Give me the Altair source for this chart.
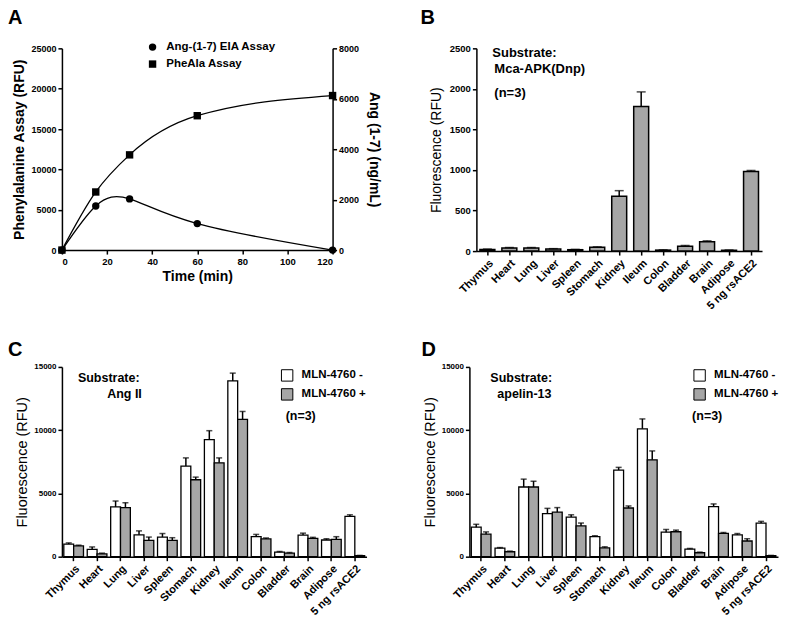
import altair as alt
import pandas as pd

# ---------------- data ----------------
time_min = [0, 15, 30, 60, 120]
pheala_rfu = [0, 7200, 11800, 16650, 19150]
ang17_ngml = [0, 1750, 2030, 1050, 0]
series_a = ["Ang-(1-7) EIA Assay", "PheAla Assay"]

tissues = ["Thymus", "Heart", "Lung", "Liver", "Spleen", "Stomach", "Kidney",
           "Ileum", "Colon", "Bladder", "Brain", "Adipose", "5 ng rsACE2"]

b_mean = [20, 38, 38, 25, 17, 46, 675, 1783, 12, 59, 114, 10, 982]
b_err = [5, 6, 6, 5, 4, 6, 70, 180, 3, 10, 12, 3, 12]
b_ticks = [0, 500, 1000, 1500, 2000, 2500]

treat = ["MLN-4760 -", "MLN-4760 +"]
c_minus = [1000, 570, 3930, 1730, 1550, 7160, 9260, 13890, 1580, 360, 1710, 1320, 3180]
c_minus_err = [90, 200, 470, 310, 280, 650, 700, 620, 180, 50, 150, 100, 130]
c_plus = [850, 230, 3880, 1290, 1290, 6080, 7420, 10860, 1400, 280, 1450, 1370, 80]
c_plus_err = [60, 50, 390, 260, 210, 210, 390, 620, 80, 50, 80, 210, 20]

d_minus = [2330, 670, 5510, 3410, 3130, 1580, 6850, 10110, 1940, 600, 3960, 1730, 2660]
d_minus_err = [230, 50, 620, 410, 180, 80, 210, 780, 210, 50, 210, 100, 130]
d_plus = [1780, 390, 5510, 3520, 2430, 700, 3850, 7660, 1970, 310, 1840, 1240, 80]
d_plus_err = [180, 50, 460, 360, 230, 80, 160, 700, 130, 50, 80, 180, 20]

GREY = "#a6a6a6"
FONT = "Liberation Sans"


def note(text, x, y, align="left", size=12.5, baseline="middle"):
    return alt.Chart(pd.DataFrame({"t": [text]})).mark_text(
        align=align, baseline=baseline, fontSize=size, fontWeight="bold",
        font=FONT, color="black").encode(text="t:N", x=alt.value(x), y=alt.value(y))


def letter(t, x, y):
    return note(t, x, y, size=20, baseline="top")


def band_axis():
    return alt.Axis(title=None, labelAngle=315, labelFontSize=11, labelPadding=2)


# ---------------- Panel A ----------------
df_pa = pd.DataFrame({"time": time_min, "value": pheala_rfu, "series": series_a[1]})
df_an = pd.DataFrame({"time": time_min, "value": ang17_ngml, "series": series_a[0]})

xA = alt.X("time:Q", scale=alt.Scale(domain=[0, 120], nice=False),
           axis=alt.Axis(values=[0, 20, 40, 60, 80, 100, 120], title="Time (min)", format="d",
                         labelFontSize=9.5, titleFontSize=14, titlePadding=4))
yL = alt.Y("value:Q", scale=alt.Scale(domain=[0, 25000], nice=False),
           axis=alt.Axis(values=[0, 5000, 10000, 15000, 20000, 25000], format="d",
                         title="Phenylalanine Assay  (RFU)", labelFontSize=9,
                         titleFontSize=14, titlePadding=4, labelOverlap=False))
yR = alt.Y("value:Q", scale=alt.Scale(domain=[0, 8000], nice=False),
           axis=alt.Axis(orient="right", values=[0, 2000, 4000, 6000, 8000], format="d",
                         title="Ang (1-7) (ng/mL)", labelFontSize=9,
                         titleFontSize=14, titlePadding=8, labelOverlap=False))
shapeA = alt.Shape("series:N", scale=alt.Scale(domain=series_a, range=["circle", "square"]),
                   legend=alt.Legend(title=None, orient="none", legendX=85, legendY=-7,
                                     labelFontSize=11.5, labelFontWeight="bold",
                                     symbolFillColor="black", symbolStrokeColor="black",
                                     symbolSize=55, rowPadding=3, labelOffset=8))

leftA = alt.layer(
    alt.Chart(df_pa).mark_line(color="black", interpolate="monotone", strokeWidth=1.3).encode(x=xA, y=yL),
    alt.Chart(df_pa).mark_point(filled=True, color="black", size=55, opacity=1).encode(x=xA, y=yL, shape=shapeA),
)
rightA = alt.layer(
    alt.Chart(df_an).mark_line(color="black", interpolate="natural", strokeWidth=1.3).encode(x=xA, y=yR),
    alt.Chart(df_an).mark_point(filled=True, color="black", size=55, opacity=1).encode(x=xA, y=yR, shape=shapeA),
)
panelA = alt.layer(leftA, rightA, letter("A", -54, -40)).resolve_scale(y="independent").properties(
    width=271, height=202)

# ---------------- Panel B ----------------
df_b = pd.DataFrame({"tissue": tissues, "mean": b_mean,
                     "upper": [m + e for m, e in zip(b_mean, b_err)]})
xB = alt.X("tissue:N", sort=tissues, scale=alt.Scale(paddingInner=0.32, paddingOuter=0.16),
           axis=band_axis())
axB = alt.Axis(values=b_ticks, title="Fluorescence (RFU)",
               format="d", labelFontSize=9.5, titleFontSize=14, labelOverlap=False,
               titleFontWeight="normal", titlePadding=6)
scB = alt.Scale(domain=[0, 2500], nice=False)
barsB = alt.Chart(df_b).mark_bar(fill=GREY, stroke="black", strokeWidth=1.5).encode(
    x=xB, y=alt.Y("mean:Q", scale=scB, axis=axB))
errB = alt.Chart(df_b).mark_rule(color="black", strokeWidth=1.5).encode(
    x=xB, y=alt.Y("mean:Q", scale=scB, axis=axB), y2="upper:Q")
capB = alt.Chart(df_b).mark_tick(color="black", thickness=1.5, size=9).encode(
    x=xB, y=alt.Y("upper:Q", scale=scB, axis=axB))
panelB = alt.layer(
    barsB, errB, capB,
    note("Substrate:", 16, 5, size=13),
    note("Mca-APK(Dnp)", 18, 21, size=13),
    note("(n=3)", 18, 45, size=13),
    letter("B", -56, -40),
).properties(width=286, height=203)


# ---------------- Panels C & D ----------------
def grouped(minus, minus_err, plus, plus_err, sub_x, sub2, sub2_x, sub2_align, n_x, leg_x, title, lx, w):
    df = pd.DataFrame({
        "tissue": tissues * 2,
        "treat": [treat[0]] * len(tissues) + [treat[1]] * len(tissues),
        "mean": minus + plus,
        "upper": [m + e for m, e in zip(minus, minus_err)] + [m + e for m, e in zip(plus, plus_err)],
    })
    x = alt.X("tissue:N", sort=tissues, scale=alt.Scale(paddingInner=0.16, paddingOuter=0.08),
              axis=band_axis())
    xo = alt.XOffset("treat:N", sort=treat, scale=alt.Scale(domain=treat))
    sc = alt.Scale(domain=[0, 15000], nice=False)
    ax = alt.Axis(values=[0, 5000, 10000, 15000], title="Fluorescence (RFU)",
                  format="d", labelFontSize=8, titleFontSize=14.5, labelOverlap=False,
                  titleFontWeight="normal", titlePadding=4)
    fill = alt.Fill("treat:N", scale=alt.Scale(domain=treat, range=["white", GREY]),
                    legend=alt.Legend(title=None, orient="none", legendX=leg_x, legendY=2,
                                      symbolType="square", symbolSize=130,
                                      symbolStrokeColor="black", symbolStrokeWidth=1,
                                      labelFontSize=11.5, labelFontWeight="bold",
                                      rowPadding=2, labelOffset=8))
    bars = alt.Chart(df).mark_bar(stroke="black", strokeWidth=1.3).encode(
        x=x, xOffset=xo, y=alt.Y("mean:Q", scale=sc, axis=ax), fill=fill)
    err = alt.Chart(df).mark_rule(color="black", strokeWidth=1.5).encode(
        x=x, xOffset=xo, y=alt.Y("mean:Q", scale=sc, axis=ax), y2="upper:Q")
    cap = alt.Chart(df).mark_tick(color="black", thickness=1.5, size=6).encode(
        x=x, xOffset=xo, y=alt.Y("upper:Q", scale=sc, axis=ax))
    return alt.layer(
        bars, err, cap,
        note("Substrate:", sub_x, 11),
        note(sub2, sub2_x, 27, align=sub2_align),
        note("(n=3)", n_x, 49),
        letter(title, lx, -27),
    ).properties(width=w, height=190)


panelC = grouped(c_minus, c_minus_err, c_plus, c_plus_err, 16, "Ang II", 80, "right", 224, 219, "C", -54, 305)
panelD = grouped(d_minus, d_minus_err, d_plus, d_plus_err, 21, "apelin-13", 28, "left", 223, 224, "D", -48, 309)

row1 = alt.hconcat(panelA, panelB, spacing=144, bounds="flush").resolve_legend(
    shape="independent", fill="independent")
row2 = alt.hconcat(panelC, panelD, spacing=103, bounds="flush").resolve_scale(
    fill="independent").resolve_legend(fill="independent")

chart = alt.vconcat(row1, row2, spacing=319, bounds="flush").resolve_legend(
    shape="independent", fill="independent"
).properties(padding=0).configure(
    font=FONT
).configure_view(stroke=None).configure_axis(
    grid=False, domainColor="black", domainWidth=1.5, tickColor="black", tickWidth=1.5,
    tickSize=4, labelColor="black", labelFontWeight="bold", titleColor="black",
    titleFontWeight="bold", labelFont=FONT, titleFont=FONT
).configure_legend(labelColor="black", labelFont=FONT)

chart.save("out.html", embed_options={"renderer": "svg", "actions": False})
